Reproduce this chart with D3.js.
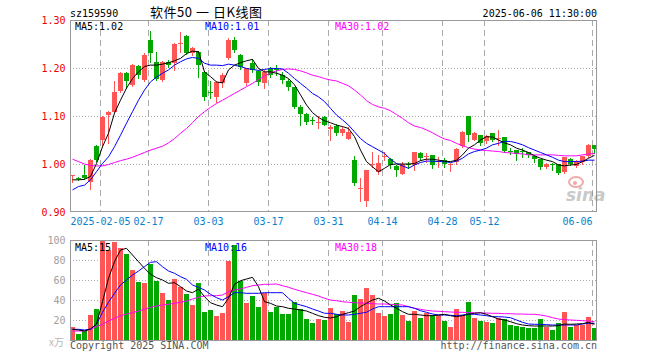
<!DOCTYPE html>
<html><head><meta charset="utf-8">
<script src="https://cdn.jsdelivr.net/npm/d3@7"></script>
<style>body{margin:0;background:#fff}svg{display:block}</style>
</head><body><svg id="c" width="660" height="360"></svg>
<script>
const dates = ["2025-01-21","2025-01-22","2025-01-23","2025-01-24","2025-01-27",
"2025-02-05","2025-02-06","2025-02-07","2025-02-10","2025-02-11","2025-02-12","2025-02-13","2025-02-14",
"2025-02-17","2025-02-18","2025-02-19","2025-02-20","2025-02-21","2025-02-24","2025-02-25","2025-02-26","2025-02-27","2025-02-28",
"2025-03-03","2025-03-04","2025-03-05","2025-03-06","2025-03-07","2025-03-10","2025-03-11","2025-03-12","2025-03-13","2025-03-14",
"2025-03-17","2025-03-18","2025-03-19","2025-03-20","2025-03-21","2025-03-24","2025-03-25","2025-03-26","2025-03-27","2025-03-28",
"2025-03-31","2025-04-01","2025-04-02","2025-04-03","2025-04-07","2025-04-08","2025-04-09","2025-04-10","2025-04-11",
"2025-04-14","2025-04-15","2025-04-16","2025-04-17","2025-04-18","2025-04-21","2025-04-22","2025-04-23","2025-04-24","2025-04-25",
"2025-04-28","2025-04-29","2025-04-30","2025-05-06","2025-05-07","2025-05-08","2025-05-09",
"2025-05-12","2025-05-13","2025-05-14","2025-05-15","2025-05-16","2025-05-19","2025-05-20","2025-05-21","2025-05-22","2025-05-23",
"2025-05-26","2025-05-27","2025-05-28","2025-05-29","2025-05-30","2025-06-03","2025-06-04","2025-06-05","2025-06-06"];

const open  = [.975,.971,.977,.963,1.037,1.050,1.102,1.109,1.153,1.189,1.165,1.204,1.175,1.258,1.212,1.176,1.213,1.210,1.252,1.267,
1.231,1.234,1.192,1.151,1.140,1.168,1.220,1.258,1.227,1.168,1.210,1.193,1.168,1.197,1.197,1.185,1.173,1.161,1.119,1.105,
1.091,1.085,1.097,1.072,1.079,1.064,1.053,1.008,.948,.922,.998,.984,1.014,1.010,.996,.979,.999,.998,1.022,1.014,
1.019,1.004,1.008,.998,1.005,1.038,1.100,1.050,1.060,1.047,1.065,1.053,1.056,1.028,1.029,1.028,1.026,1.017,1.010,.994,
1.000,1.001,.984,1.010,.996,1.005,1.017,1.039];
const high  = [.978,.973,.998,1.010,1.039,1.099,1.111,1.172,1.192,1.192,1.208,1.206,1.231,1.278,1.234,1.215,1.217,1.252,1.276,1.268,
1.244,1.236,1.193,1.172,1.172,1.190,1.262,1.265,1.230,1.201,1.218,1.196,1.196,1.203,1.206,1.192,1.178,1.161,1.123,1.107,
1.097,1.099,1.099,1.081,1.083,1.078,1.078,1.017,.970,.988,1.026,1.019,1.026,1.012,.998,1.005,1.005,1.026,1.024,1.022,
1.019,1.015,1.012,1.002,1.033,1.069,1.100,1.067,1.060,1.060,1.065,1.071,1.057,1.033,1.029,1.033,1.026,1.019,1.010,1.003,
1.003,1.001,1.015,1.012,1.008,1.017,1.042,1.039];
const low   = [.963,.966,.969,.948,1.006,1.037,1.043,1.109,1.151,1.158,1.163,1.180,1.172,1.213,1.175,1.172,1.203,1.196,1.234,1.230,
1.227,1.182,1.133,1.137,1.130,1.160,1.218,1.233,1.198,1.165,1.192,1.165,1.158,1.182,1.185,1.168,1.154,1.116,1.081,1.083,
1.083,1.074,1.081,1.049,1.060,1.060,1.053,.956,.922,.913,.994,.980,1.008,.991,.976,.979,.991,.987,1.008,1.005,
.991,.994,.994,.986,1.001,1.036,1.047,1.049,1.040,1.043,1.047,1.040,1.026,1.021,1.008,1.014,1.015,1.005,.989,.991,
.987,.979,.982,.998,.993,1.001,1.015,1.022];
const close = [.978,.970,.971,1.008,1.008,1.097,1.109,1.151,1.189,1.172,1.206,1.185,1.227,1.231,1.178,1.213,1.206,1.251,1.253,1.231,
1.241,1.206,1.140,1.150,1.171,1.185,1.258,1.238,1.203,1.199,1.196,1.170,1.192,1.185,1.195,1.175,1.161,1.119,1.105,1.088,
1.089,1.088,1.081,1.078,1.064,1.072,1.067,.960,.950,.988,1.000,1.003,1.016,.998,.988,1.001,.998,1.026,1.012,1.016,
.998,1.006,1.001,1.001,1.031,1.067,1.060,1.065,1.043,1.058,1.050,1.054,1.028,1.027,1.021,1.027,1.019,1.010,.993,1.000,
.999,.982,1.014,1.001,1.007,1.017,1.040,1.031];
const volume = [13.3,6,9,25,31,99.3,90,98.3,92.3,86,70,58.3,57,76.3,59,47,40,61,53.3,46,
35,57,28,30,24.3,27,79.3,95,59,37,44.3,33.3,47.3,28,33.3,26,26,38,31,21,
17.3,21,20,32,25.7,29,18.3,45,41,52.3,45,27.3,24.3,26,37,25,19.3,29.3,22.3,27.3,
25,25,19.3,13.3,31,25,38,22.3,19.3,18.3,17.3,22.3,21,15.3,14.3,13.3,12.3,12.3,21,13.3,
10,17.3,28,13.3,15,15,23,12.3];

const ma5 = [.967,.967,.968,.974,1.001,1.036,1.064,1.106,1.133,1.158,1.178,1.192,1.203,1.206,1.206,1.208,1.211,1.215,1.220,1.230,
1.235,1.234,1.192,1.182,1.171,1.169,1.196,1.206,1.211,1.215,1.218,1.199,1.192,1.192,1.189,1.185,1.178,1.165,1.144,1.123,
1.107,1.097,1.090,1.086,1.081,1.078,1.074,1.057,1.029,1.005,.994,.984,.991,.999,1.000,1.000,1.000,1.001,1.007,1.010,
1.010,1.008,1.006,1.005,1.008,1.019,1.033,1.040,1.050,1.057,1.056,1.050,1.044,1.040,1.033,1.029,1.024,1.017,1.012,1.008,
1.005,.998,.996,.998,.999,1.005,1.012,1.018];
const ma10 = [.946,.953,.956,.967,.984,1.001,1.015,1.036,1.060,1.085,1.109,1.133,1.154,1.171,1.181,1.189,1.196,1.206,1.213,1.219,
1.222,1.220,1.210,1.206,1.206,1.205,1.208,1.206,1.203,1.199,1.197,1.195,1.197,1.199,1.199,1.198,1.189,1.178,1.168,1.158,
1.147,1.140,1.130,1.116,1.102,1.092,1.081,1.067,1.053,1.043,1.036,1.029,1.022,1.010,1.001,.996,.991,.998,1.003,1.006,
1.006,1.005,1.005,1.003,1.006,1.012,1.021,1.026,1.029,1.033,1.040,1.043,1.047,1.047,1.044,1.040,1.034,1.029,1.024,1.019,
1.014,1.008,1.005,1.005,1.005,1.006,1.008,1.008];
const ma30 = [1.010,1.005,1.000,.997,.996,.996,.999,1.003,1.007,1.010,1.014,1.019,1.024,1.029,1.033,1.037,1.044,1.053,1.064,1.074,
1.086,1.099,1.109,1.118,1.126,1.133,1.140,1.147,1.154,1.161,1.168,1.176,1.183,1.190,1.194,1.197,1.198,1.197,1.194,1.190,
1.185,1.182,1.178,1.175,1.173,1.168,1.163,1.154,1.144,1.132,1.124,1.119,1.116,1.111,1.103,1.095,1.086,1.079,1.076,1.071,
1.065,1.058,1.052,1.049,1.043,1.038,1.034,1.031,1.029,1.028,1.027,1.026,1.024,1.023,1.022,1.021,1.019,1.019,1.019,1.019,
1.019,1.018,1.017,1.017,1.017,1.019,1.021,1.022];
const vma5 = [10.7,10,9,11,16,38.3,61.7,78.3,90,91.7,85,78.3,71.7,65.7,62.3,60,56.7,57.3,53.3,49,
47.3,51,43.3,37.3,35,33.3,41.7,55.7,59.3,61,62.7,53.3,38.3,36.7,34,33.3,31.7,31,30,29,
26.7,24.3,22.7,22,23.3,25.7,27.3,29,33.3,36.7,40,41.7,39,35,31.7,28.3,25.7,25.7,25,24.3,
24.3,25,25.7,24.3,23.3,24.3,25.7,26.7,27.3,25.7,23.3,21,20,18.3,16.3,15,14.3,14,14,14,
14,14.3,16,15.7,16,16.3,17.7,15.7];
const vma10 = [10.7,10.7,10,11,15.7,27.7,37.7,46.7,55,60,65,69,73.3,77.7,78.3,73.3,69,66.7,63.3,60.7,
55,52.7,50,45.7,42.3,40,43.3,47.3,47.3,46.7,46.7,46.7,47.3,47.3,47.3,47.3,41.7,36.7,35,33.3,
31,29,26.7,26.7,25.7,25,25,25.7,26.7,27.7,31,33.3,33.3,33.3,33.3,33.3,33.3,31.7,29.3,27.7,
26,25,25,24.7,24.3,25,26,25.7,25,24.3,23.3,23.3,23,22.3,20,17.7,16,15.7,15.7,15.3,
15,15,15,15,15,16,16.7,16.7];
const vma30 = [9,9,9,10.7,13.3,15.7,19,21.7,24.3,26,27.3,29,30.7,32.7,34,35,35.7,36.7,37.7,39,
41,42.7,44,44.3,44.3,45,48.3,50,51,52.7,54.3,55,55.7,55.7,56,54.3,52.7,50.7,49,47.3,
45.7,44,41.7,40,39.3,38.3,37.7,37.3,37,36.7,36.3,36,36,35.7,35.3,35,33.3,31.7,30.7,29.7,
29,28.7,28.3,28,27.7,27.7,27.3,27.3,27,27,26.7,26.7,26.3,26.3,26,26,25.7,25.7,25,24,
22.3,21,20.3,20,19.7,19.3,19,18.3];

const priceTicks = [1.30, 1.20, 1.10, 1.00, 0.90];
const volTicks = [100, 80, 60, 40, 20];
const tickDates = ["2025-02-05","2025-02-17","2025-03-03","2025-03-17","2025-03-31","2025-04-14","2025-04-28","2025-05-12","2025-06-06"];
const maPriceLabels = ["MA5:1.02","MA10:1.01","MA30:1.02"];
const maVolLabels = ["MA5:15","MA10:16","MA30:18"];
const code = "sz159590", title = "软件50 一 日K线图", stamp = "2025-06-06 11:30:00";

const RED = "#ff5555", GREEN = "#00a800", GRID = "#aaaaaa", FRAME = "#999999";
const MONO = "'DejaVu Sans Mono', monospace";
const L = 70, R = 597, PT = 20, PB = 212, VT = 240, VB = 340;

const svg = d3.select("#c");
const n = dates.length;
const x = d3.scaleLinear().domain([0, n]).range([L, L + 6 * n]);
const yP = d3.scaleLinear().domain([0.90, 1.30]).range([PB, PT]);
const yV = d3.scaleLinear().domain([0, 100]).range([VB, VT]);
const up = i => close[i] >= open[i];
const idx = d3.range(n);
const tickIdx = tickDates.map(d => dates.indexOf(d));

// grids
const g = svg.append("g").attr("shape-rendering", "crispEdges");
g.selectAll(".hp").data(priceTicks.slice(1, -1)).join("line")
  .attr("x1", L).attr("x2", R).attr("y1", d => Math.round(yP(d)) + .5).attr("y2", d => Math.round(yP(d)) + .5)
  .attr("stroke", GRID).attr("stroke-dasharray", "1,2");
g.selectAll(".hv").data(volTicks.slice(1)).join("line")
  .attr("x1", L).attr("x2", R).attr("y1", d => Math.round(yV(d)) + .5).attr("y2", d => Math.round(yV(d)) + .5)
  .attr("stroke", GRID).attr("stroke-dasharray", "1,2");
[[PT, PB], [VT, VB]].forEach(([t, b]) => {
  g.append("g").selectAll("line").data(tickIdx).join("line")
    .attr("x1", i => x(i) + .5).attr("x2", i => x(i) + .5).attr("y1", t).attr("y2", b)
    .attr("stroke", GRID).attr("stroke-dasharray", "6,4");
});

// candles
const cg = svg.append("g").attr("shape-rendering", "crispEdges");
cg.selectAll("line").data(idx).join("line")
  .attr("x1", i => x(i) + 2.5).attr("x2", i => x(i) + 2.5)
  .attr("y1", i => Math.round(yP(high[i]))).attr("y2", i => Math.round(yP(low[i])) + 1)
  .attr("stroke", i => up(i) ? RED : GREEN);
cg.selectAll("rect").data(idx).join("rect")
  .attr("x", i => x(i)).attr("width", 5)
  .attr("y", i => Math.round(yP(Math.max(open[i], close[i]))))
  .attr("height", i => Math.max(1, Math.round(yP(Math.min(open[i], close[i]))) - Math.round(yP(Math.max(open[i], close[i])))))
  .attr("fill", i => up(i) ? RED : GREEN);

// volume bars
svg.append("g").attr("shape-rendering", "crispEdges").selectAll("rect").data(idx).join("rect")
  .attr("x", i => x(i)).attr("width", 5)
  .attr("y", i => Math.round(yV(volume[i]))).attr("height", i => VB - Math.round(yV(volume[i])))
  .attr("fill", i => up(i) ? RED : GREEN);

// MA lines
function maLine(arr, ys, color) {
  svg.append("path").datum(idx)
    .attr("d", d3.line().x(i => x(i) + 2.5).y(i => ys(arr[i])))
    .attr("fill", "none").attr("stroke", color).attr("stroke-width", 1);
}
maLine(ma30, yP, "#ff00ff"); maLine(ma10, yP, "#0000ff"); maLine(ma5, yP, "#000000");
maLine(vma30, yV, "#ff00ff"); maLine(vma10, yV, "#0000ff"); maLine(vma5, yV, "#000000");

// frames
svg.append("rect").attr("x", L + .5).attr("y", PT + .5).attr("width", R - L - 1).attr("height", PB - PT - 1)
  .attr("fill", "none").attr("stroke", FRAME).attr("shape-rendering", "crispEdges");
svg.append("rect").attr("x", L + .5).attr("y", VT + .5).attr("width", R - L - 1).attr("height", VB - VT)
  .attr("fill", "none").attr("stroke", FRAME).attr("shape-rendering", "crispEdges");

// axes
const ax = svg.append("g").attr("transform", "translate(65.5,0)")
  .call(d3.axisLeft(yP).tickValues(priceTicks).tickFormat(d3.format(".2f")).tickSize(0).tickPadding(0));
ax.select(".domain").remove();
ax.selectAll("text").attr("fill", "#ee0000").attr("font-family", MONO).attr("font-size", 10);
const av = svg.append("g").attr("transform", "translate(65.5,0)")
  .call(d3.axisLeft(yV).tickValues(volTicks).tickSize(0).tickPadding(0));
av.select(".domain").remove();
av.selectAll("text").attr("fill", "#a0a0a0").attr("font-family", MONO).attr("font-size", 10);
const axb = svg.append("g").attr("transform", `translate(0,${PB})`)
  .call(d3.axisBottom(x).tickValues(tickIdx).tickSize(0).tickPadding(6)
    .tickFormat((i, k) => k === 0 ? dates[i] : dates[i].slice(5)));
axb.select(".domain").remove();
axb.selectAll(".tick").attr("transform", i => `translate(${x(i) + .5},0)`);
axb.selectAll("text").attr("fill", "#0a7fd0").attr("font-family", MONO).attr("font-size", 10)
  .attr("text-anchor", (d, k) => k === tickIdx.length - 1 ? "end" : "middle");

// texts
const T = (s, xx, yy, opt = {}) => svg.append("text").text(s).attr("x", xx).attr("y", yy)
  .attr("font-family", opt.f || MONO).attr("font-size", opt.s || 10).attr("fill", opt.c || "#000")
  .attr("text-anchor", opt.a || "start");
T(code, 70, 16.5);
T(stamp, 597, 16.5, {a: "end"});
T(title, 150, 17, {f: "'Noto Sans CJK SC', sans-serif", s: 13}).attr("textLength", 112).attr("lengthAdjust", "spacing");
const maColors = ["#000000", "#0000ff", "#ff00ff"], maX = [75, 205, 335];
maPriceLabels.forEach((s, k) => T(s, maX[k], 30, {c: maColors[k]}));
maVolLabels.forEach((s, k) => T(s, maX[k], 250.5, {c: maColors[k]}));
T("x万", 64, 346, {a: "end", c: "#b8b8b8", f: "'Noto Sans CJK SC', sans-serif", s: 10});
T("Copyright 2025 SINA.COM", 70, 349, {c: "#555"});
T("http://finance.sina.com.cn", 597, 349, {a: "end", c: "#555"});

// sina watermark
const wm = svg.append("g").attr("opacity", 0.45);
wm.append("ellipse").attr("cx", 576).attr("cy", 182).attr("rx", 7).attr("ry", 5).attr("fill", "none").attr("stroke", "#e04040").attr("stroke-width", 2);
wm.append("circle").attr("cx", 575).attr("cy", 183).attr("r", 2).attr("fill", "#e04040");
wm.append("text").text("sina").attr("x", 566).attr("y", 201).attr("font-family", "'DejaVu Sans', sans-serif")
  .attr("font-size", 17).attr("font-weight", "bold").attr("font-style", "italic").attr("fill", "#888");
</script></body></html>
